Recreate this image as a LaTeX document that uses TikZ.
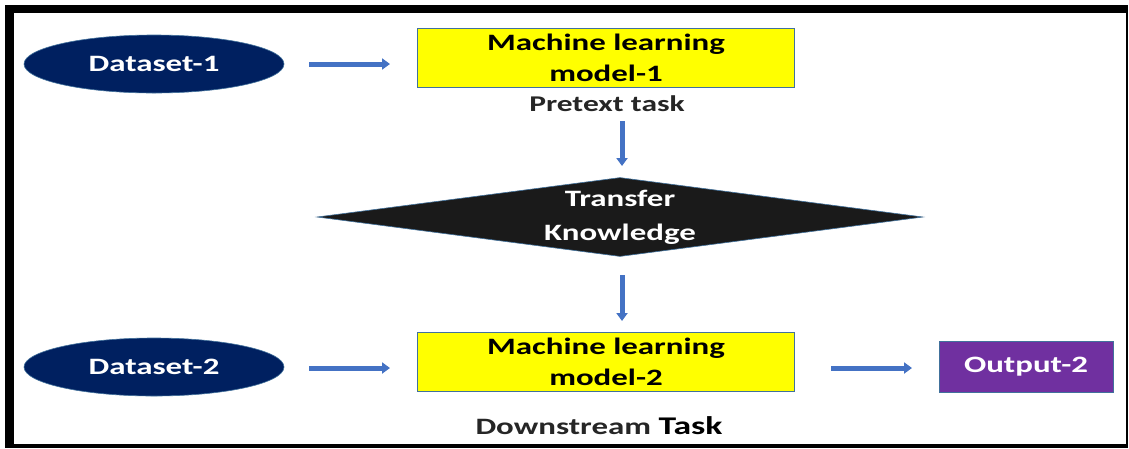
\documentclass[tikz,border=0pt]{standalone}
\usepackage{fontspec}
\setmainfont{Carlito}[FakeStretch=1.4]
\usetikzlibrary{shapes.geometric,arrows.meta}
\definecolor{navy}{HTML}{002060}
\definecolor{flow}{HTML}{4472C4}
\definecolor{edge}{HTML}{41719C}
\definecolor{violetbox}{HTML}{7030A0}
\definecolor{yellowbox}{HTML}{FFFF00}
\definecolor{captiongray}{HTML}{262626}
\definecolor{diamondfill}{HTML}{1A1A1A}

\begin{document}
\begin{tikzpicture}[x=1pt,y=-1pt,
  dataset/.style={ellipse, fill=navy, draw=edge, line width=0.6pt,
    minimum width=260pt, minimum height=58pt, inner sep=0pt,
    text=white, font=\fontsize{23.5}{26}\selectfont\bfseries},
  model/.style={rectangle, fill=yellowbox, draw=edge, line width=1.2pt,
    minimum width=377pt, minimum height=59pt, inner sep=0pt, align=center,
    font=\fontsize{23.5}{31}\selectfont\bfseries},
  transfer/.style={diamond, fill=diamondfill, draw=edge, line width=0.6pt,
    aspect=7.7, minimum width=606pt, minimum height=79pt, inner sep=0pt,
    align=center, text=white, font=\fontsize{23.5}{34}\selectfont\bfseries},
  outbox/.style={rectangle, fill=violetbox, draw=edge, line width=1pt,
    minimum width=174pt, minimum height=51pt, inner sep=0pt,
    text=white, font=\fontsize{23.5}{26}\selectfont\bfseries},
  caption/.style={inner sep=0pt, text=captiongray, font=\fontsize{22.5}{26}\selectfont\bfseries},
  flowarrow/.style={draw=flow, line width=5pt, -{Triangle[width=11pt,length=8pt]}}
]
% page and frame
\fill[white] (0,0) rectangle (1129,448);
\useasboundingbox (0,0) rectangle (1129,448);
\fill[black] (5,5) rectangle (1128,13);
\fill[black] (5,5) rectangle (14,448);
\fill[black] (5,444) rectangle (1128,448);
\fill[black] (1126,5) rectangle (1128,448);

% nodes
\node[dataset] (d1) at (154,64) {Dataset-1};
\node[model] (m1) at (606,58) {Machine learning\\model-1};
\node[caption] (pre) at (607,104) {Pretext task};
\node[transfer] (tk) at (620,217) {Transfer\\Knowledge};
\node[dataset] (d2) at (154,367) {Dataset-2};
\node[model] (m2) at (606,362) {Machine learning\\model-2};
\node[outbox] (out) at (1026,367) {Output-2};
\node[caption, font=\fontsize{23.5}{26}\selectfont\bfseries] (down) at (599,426)
  {Downstream {\color{black}\fontsize{25.5}{28}\selectfont Task}};

% connectors, with a gap left on both sides
\coordinate (a1s) at (309,64);  \coordinate (a1e) at (390,64);
\coordinate (a2s) at (622,121); \coordinate (a2e) at (622,166);
\coordinate (a3s) at (622,275); \coordinate (a3e) at (622,321);
\coordinate (a4s) at (309,368); \coordinate (a4e) at (390,368);
\coordinate (a5s) at (831,368); \coordinate (a5e) at (912,368);
\draw[flowarrow] (a1s) -- (a1e);
\draw[flowarrow] (a2s) -- (a2e);
\draw[flowarrow] (a3s) -- (a3e);
\draw[flowarrow] (a4s) -- (a4e);
\draw[flowarrow] (a5s) -- (a5e);
\end{tikzpicture}
\end{document}
